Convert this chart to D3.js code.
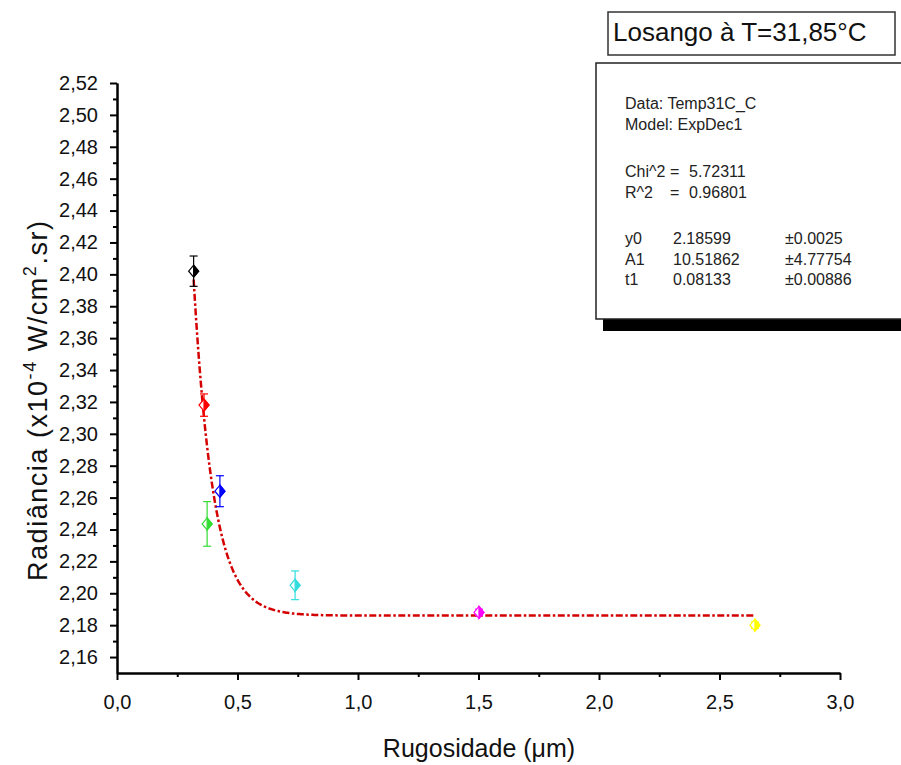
<!DOCTYPE html>
<html>
<head>
<meta charset="utf-8">
<script src="https://cdn.jsdelivr.net/npm/d3@7"></script>
<style>
  html,body{margin:0;padding:0;background:#fff;}
  svg{display:block;font-family:"Liberation Sans",Arial,sans-serif;}
</style>
</head>
<body>
<svg id="chart" width="901" height="765"></svg>
<script>
/* ---- data ---- */
var rugosidade = [0.318, 0.361, 0.374, 0.427, 0.739, 1.502, 2.647];
var radiancia  = [2.402, 2.318, 2.2435, 2.264, 2.205, 2.188, 2.180];
var erro       = [0.0095, 0.007, 0.014, 0.0097, 0.009, 0.002, 0.002];
var cores      = ['#000000', '#ff0000', '#33dd33', '#0000ff', '#33dddd', '#ff00ff', '#ffff00'];

var xTicks = [0, 0.5, 1.0, 1.5, 2.0, 2.5, 3.0];
var yTicks = d3.range(2.16, 2.5201, 0.02);

/* fit parameters as printed in the stats box */
var paramNames  = ['y0', 'A1', 't1'];
var paramValues = [2.18599, 10.51862, 0.08133];
var paramText   = ['2.18599', '10.51862', '0.08133'];
var paramErrors = ['\u00b10.0025', '\u00b14.77754', '\u00b10.00886'];

var svg = d3.select('#chart');
var x = d3.scaleLinear().domain([0, 3]).range([117, 840]);
var y = d3.scaleLinear().domain([2.15, 2.52]).range([673, 83]);

/* ---- axes ---- */
var gx = svg.append('g').attr('transform', 'translate(0,673)');
gx.call(d3.axisBottom(x).tickValues(d3.range(0.25, 3, 0.5)).tickSize(4).tickSizeOuter(0).tickFormat(''));
gx.append('g').call(d3.axisBottom(x).tickValues(xTicks).tickSize(7).tickSizeOuter(0).tickPadding(15)
  .tickFormat(function(d){ return d.toFixed(1).replace('.', ','); }));

var gy = svg.append('g').attr('transform', 'translate(117,0)');
gy.call(d3.axisLeft(y).tickValues(d3.range(2.17, 2.52, 0.02)).tickSize(4).tickSizeOuter(0).tickFormat(''));
gy.append('g').call(d3.axisLeft(y).tickValues(yTicks).tickSize(7).tickSizeOuter(0).tickPadding(12)
  .tickFormat(function(d){ return d.toFixed(2).replace('.', ','); }));

svg.selectAll('.domain').attr('stroke', '#000').attr('stroke-width', 2);
svg.selectAll('.tick line').attr('stroke', '#000').attr('stroke-width', 2);
svg.selectAll('.tick text').attr('font-size', '20px').attr('font-family', 'Liberation Sans,Arial,sans-serif').attr('fill', '#111');

/* axis titles */
svg.append('text').attr('x', 479).attr('y', 757).attr('text-anchor', 'middle')
  .attr('font-size', '25px').attr('fill', '#111').text('Rugosidade (\u03bcm)');

var yl = svg.append('text').attr('transform', 'translate(47,401) rotate(-90)')
  .attr('text-anchor', 'middle').attr('font-size', '27px').attr('fill', '#111')
  .attr('textLength', 360).attr('lengthAdjust', 'spacing');
yl.append('tspan').text('Radi\u00e2ncia (x10');
yl.append('tspan').attr('font-size', '18px').attr('dy', -11).text('-4');
yl.append('tspan').attr('dy', 11).text(' W/cm');
yl.append('tspan').attr('font-size', '18px').attr('dy', -11).text('2');
yl.append('tspan').attr('dy', 11).text('.sr)');

/* ---- fit curve (ExpDec1 with the printed parameters) ---- */
var y0 = paramValues[0], A1 = paramValues[1], t1 = paramValues[2];
var xs = d3.range(rugosidade[0], d3.max(rugosidade) + 0.0001, 0.005);
svg.append('path')
  .datum(xs)
  .attr('d', d3.line().x(function(d){ return x(d); }).y(function(d){ return y(y0 + A1 * Math.exp(-d / t1)); }))
  .attr('fill', 'none').attr('stroke', '#d40000').attr('stroke-width', 2.5)
  .attr('stroke-dasharray', '7,2.5,2.5,2.5');

/* ---- error bars + half-filled diamonds ---- */
rugosidade.forEach(function(xv, i){
  var cx = x(xv), cy = y(radiancia[i]);
  var yt = y(radiancia[i] + erro[i]), yb = y(radiancia[i] - erro[i]);
  var g = svg.append('g').attr('stroke', cores[i]);
  g.append('line').attr('x1', cx).attr('x2', cx).attr('y1', yt).attr('y2', yb).attr('stroke-width', 1.2);
  g.append('line').attr('x1', cx - 4).attr('x2', cx + 4).attr('y1', yt).attr('y2', yt).attr('stroke-width', 1.2);
  g.append('line').attr('x1', cx - 4).attr('x2', cx + 4).attr('y1', yb).attr('y2', yb).attr('stroke-width', 1.2);
  var w = 5, h = 6;
  g.append('path').attr('d', 'M' + cx + ',' + (cy - h) + 'L' + (cx + w) + ',' + cy + 'L' + cx + ',' + (cy + h) + 'L' + (cx - w) + ',' + cy + 'Z')
    .attr('fill', '#fff').attr('stroke-width', 1.2);
  g.append('path').attr('d', 'M' + cx + ',' + (cy - h) + 'L' + (cx + w) + ',' + cy + 'L' + cx + ',' + (cy + h) + 'Z')
    .attr('fill', cores[i]).attr('stroke-width', 1.2);
});

/* ---- title box ---- */
svg.append('rect').attr('x', 608).attr('y', 12).attr('width', 287).attr('height', 43)
  .attr('fill', '#fff').attr('stroke', '#333').attr('stroke-width', 1.5);
svg.append('text').attr('x', 613).attr('y', 41).attr('font-size', '26px').attr('fill', '#111')
  .text('Losango \u00e0 T=31,85\u00b0C');

/* ---- stats box ---- */
svg.append('rect').attr('x', 603).attr('y', 70).attr('width', 310).attr('height', 261).attr('fill', '#000');
svg.append('rect').attr('x', 596).attr('y', 63).attr('width', 310).attr('height', 256)
  .attr('fill', '#fff').attr('stroke', '#222').attr('stroke-width', 1.5);

var st = svg.append('g').attr('font-size', '16px').attr('fill', '#222');
st.append('text').attr('x', 625).attr('y', 109).text('Data: Temp31C_C');
st.append('text').attr('x', 625).attr('y', 130).text('Model: ExpDec1');
st.append('text').attr('x', 625).attr('y', 177).text('Chi^2');
st.append('text').attr('x', 670).attr('y', 177).text('=');
st.append('text').attr('x', 689).attr('y', 177).text('5.72311');
st.append('text').attr('x', 625).attr('y', 198).text('R^2');
st.append('text').attr('x', 670).attr('y', 198).text('=');
st.append('text').attr('x', 689).attr('y', 198).text('0.96801');
paramNames.forEach(function(n, i){
  var by = 244 + i * 20.5;
  st.append('text').attr('x', 625).attr('y', by).text(n);
  st.append('text').attr('x', 673).attr('y', by).text(paramText[i]);
  st.append('text').attr('x', 785).attr('y', by).text(paramErrors[i]);
});
</script>
</body>
</html>
